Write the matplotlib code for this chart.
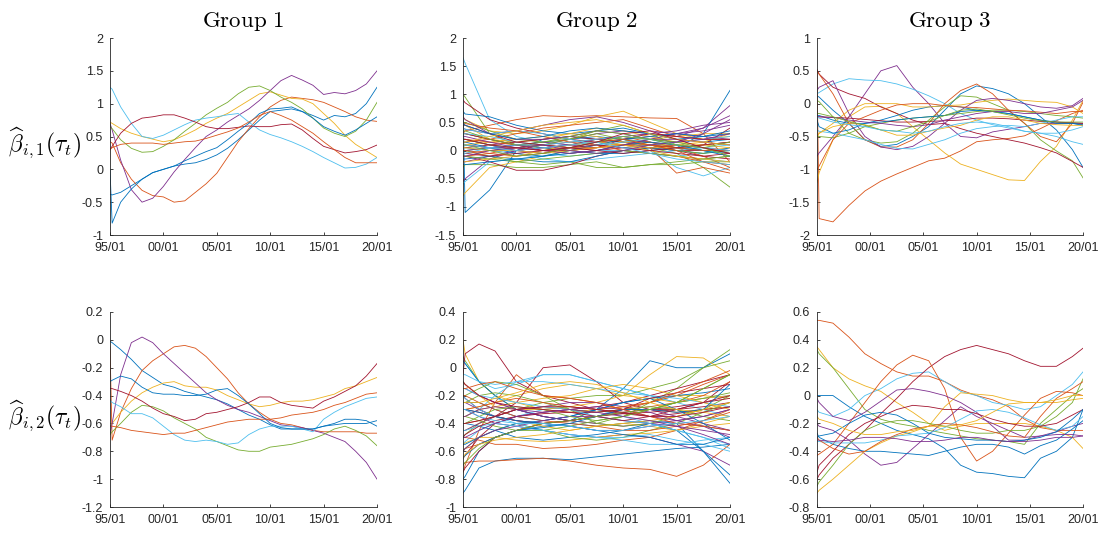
import matplotlib.pyplot as plt

# fonts: tick labels sans, titles / ylabels in Computer Modern like the LaTeX original
plt.rcParams['font.family'] = ['Liberation Sans', 'DejaVu Sans']
plt.rcParams['mathtext.fontset'] = 'cm'
plt.rcParams['axes.unicode_minus'] = False

# MATLAB default colour order
matlab_colors = ['#0072BD', '#D95319', '#EDB120', '#7E2F8E', '#77AC30', '#4DBEEE', '#A2142F']

# ---------------- data (decimal years) ----------------
years_tick = [1995, 2000, 2005, 2010, 2015, 2020]
tick_labels = ['95/01', '00/01', '05/01', '10/01', '15/01', '20/01']

t1 = [1995, 1995.2, 1996, 1997, 1998, 1999, 2000, 2001, 2002, 2003, 2004, 2005, 2006, 2007,
      2008, 2009, 2010, 2011, 2012, 2013, 2014, 2015, 2016, 2017, 2018, 2019, 2020]
t2_top = [1995, 1995.2, 1997.5, 2000, 2002.5, 2005, 2007.5, 2010, 2012.5, 2015, 2017.5, 2020]
t2_bot = [1995, 1995.2, 1996.5, 1998, 2000, 2002.5, 2005, 2007.5, 2010, 2012.5, 2015, 2017.5, 2020]
t3 = [1995, 1995.2, 1996.5, 1998, 1999.5, 2001, 2002.5, 2004, 2005.5, 2007, 2008.5, 2010,
      2011.5, 2013, 2014.5, 2016, 2017.5, 2019, 2020]

# Group 1, beta_{i,1}
g1_b1 = [
    [-0.38, -0.39, -0.35, -0.25, -0.15, -0.05, 0.0, 0.05, 0.08, 0.1, 0.15, 0.22, 0.32, 0.45, 0.6, 0.75, 0.88, 0.9, 0.92, 0.88, 0.82, 0.75, 0.82, 0.8, 0.85, 1.0, 1.25],
    [0.42, 0.4, 0.1, -0.15, -0.32, -0.4, -0.42, -0.5, -0.48, -0.35, -0.22, -0.06, 0.18, 0.42, 0.62, 0.8, 0.95, 1.05, 1.1, 1.08, 1.06, 1.02, 0.95, 0.88, 0.8, 0.75, 0.73],
    [0.72, 0.7, 0.62, 0.55, 0.5, 0.46, 0.42, 0.45, 0.52, 0.6, 0.7, 0.78, 0.85, 0.95, 1.05, 1.15, 1.18, 1.13, 1.08, 1.07, 1.0, 0.85, 0.7, 0.52, 0.38, 0.28, 0.18],
    [0.7, 0.6, 0.14, -0.31, -0.5, -0.44, -0.26, -0.04, 0.15, 0.33, 0.5, 0.6, 0.72, 0.82, 0.92, 1.05, 1.2, 1.35, 1.43, 1.36, 1.28, 1.14, 1.17, 1.15, 1.2, 1.3, 1.5],
    [0.65, 0.62, 0.45, 0.32, 0.26, 0.27, 0.35, 0.45, 0.58, 0.7, 0.83, 0.93, 1.02, 1.15, 1.25, 1.27, 1.2, 1.1, 1.02, 0.92, 0.78, 0.63, 0.55, 0.5, 0.58, 0.75, 1.02],
    [1.25, 1.22, 0.95, 0.7, 0.5, 0.47, 0.52, 0.6, 0.68, 0.75, 0.78, 0.8, 0.83, 0.85, 0.72, 0.6, 0.53, 0.48, 0.42, 0.35, 0.27, 0.18, 0.1, 0.02, 0.03, 0.08, 0.18],
    [0.3, 0.35, 0.55, 0.7, 0.78, 0.8, 0.83, 0.83, 0.78, 0.72, 0.65, 0.62, 0.62, 0.64, 0.66, 0.65, 0.65, 0.68, 0.69, 0.6, 0.47, 0.35, 0.3, 0.25, 0.27, 0.3, 0.37],
    [0.0, -0.82, -0.5, -0.3, -0.15, -0.05, 0.0, 0.05, 0.13, 0.2, 0.27, 0.33, 0.45, 0.58, 0.7, 0.85, 0.92, 0.93, 0.95, 0.88, 0.78, 0.65, 0.58, 0.52, 0.6, 0.7, 0.8],
    [0.3, 0.33, 0.38, 0.4, 0.4, 0.4, 0.38, 0.4, 0.42, 0.43, 0.47, 0.52, 0.57, 0.63, 0.72, 0.82, 0.88, 0.82, 0.75, 0.65, 0.55, 0.42, 0.3, 0.18, 0.1, 0.1, 0.1],
]

# Group 1, beta_{i,2}
g1_b2 = [
    [-0.01, -0.02, -0.07, -0.14, -0.22, -0.27, -0.32, -0.34, -0.37, -0.39, -0.41, -0.43, -0.46, -0.5, -0.54, -0.57, -0.61, -0.64, -0.64, -0.64, -0.64, -0.62, -0.6, -0.57, -0.57, -0.58, -0.62],
    [-0.05, -0.72, -0.52, -0.35, -0.22, -0.15, -0.1, -0.05, -0.04, -0.06, -0.12, -0.2, -0.28, -0.38, -0.46, -0.52, -0.57, -0.6, -0.61, -0.63, -0.65, -0.66, -0.66, -0.66, -0.66, -0.67, -0.67],
    [-0.62, -0.6, -0.52, -0.44, -0.38, -0.34, -0.31, -0.3, -0.33, -0.34, -0.34, -0.36, -0.4, -0.43, -0.46, -0.48, -0.47, -0.45, -0.44, -0.44, -0.43, -0.41, -0.39, -0.35, -0.33, -0.3, -0.27],
    [-0.68, -0.6, -0.25, -0.02, 0.02, -0.02, -0.1, -0.17, -0.24, -0.31, -0.38, -0.43, -0.47, -0.5, -0.52, -0.55, -0.58, -0.61, -0.62, -0.63, -0.65, -0.67, -0.7, -0.73, -0.8, -0.88, -1.0],
    [-0.68, -0.66, -0.6, -0.52, -0.47, -0.48, -0.51, -0.56, -0.6, -0.64, -0.7, -0.73, -0.76, -0.79, -0.8, -0.8, -0.77, -0.76, -0.75, -0.73, -0.71, -0.68, -0.64, -0.62, -0.65, -0.69, -0.76],
    [-0.43, -0.45, -0.48, -0.53, -0.53, -0.56, -0.62, -0.68, -0.72, -0.73, -0.72, -0.73, -0.75, -0.74, -0.68, -0.64, -0.62, -0.62, -0.62, -0.64, -0.66, -0.57, -0.52, -0.48, -0.45, -0.42, -0.41],
    [-0.35, -0.35, -0.37, -0.4, -0.44, -0.49, -0.53, -0.55, -0.58, -0.57, -0.53, -0.52, -0.5, -0.48, -0.45, -0.41, -0.41, -0.45, -0.47, -0.48, -0.49, -0.44, -0.41, -0.37, -0.33, -0.26, -0.17],
    [-0.3, -0.29, -0.26, -0.28, -0.34, -0.38, -0.39, -0.39, -0.4, -0.4, -0.39, -0.36, -0.35, -0.4, -0.46, -0.53, -0.6, -0.63, -0.64, -0.64, -0.64, -0.62, -0.61, -0.6, -0.6, -0.6, -0.58],
    [-0.62, -0.62, -0.63, -0.65, -0.66, -0.67, -0.68, -0.67, -0.67, -0.65, -0.63, -0.61, -0.59, -0.58, -0.57, -0.57, -0.57, -0.56, -0.54, -0.53, -0.52, -0.5, -0.47, -0.45, -0.42, -0.39, -0.38],
]

# Group 2, beta_{i,1} (dense bundle, estimated)
g2_b1 = [
    [0.9, -1.1, -0.7, 0.0, 0.2, 0.25, 0.2, 0.15, 0.1, 0.05, 0.1, 0.15],
    [0.3, 0.35, 0.45, 0.55, 0.62, 0.6, 0.62, 0.6, 0.58, 0.57, 0.3, -0.2],
    [-0.8, -0.75, -0.3, -0.2, -0.1, 0.0, 0.1, 0.2, 0.15, 0.05, 0.0, 0.05],
    [-0.55, -0.5, -0.15, 0.0, 0.1, 0.2, 0.3, 0.35, 0.3, 0.25, 0.4, 0.8],
    [1.0, 0.95, 0.3, 0.1, 0.05, 0.1, 0.2, 0.15, 0.05, -0.05, -0.3, -0.65],
    [1.65, 1.55, 0.55, 0.25, 0.15, 0.1, 0.15, 0.2, 0.0, -0.3, -0.45, -0.3],
    [0.9, 0.85, 0.55, 0.4, 0.3, 0.2, 0.15, 0.1, 0.05, 0.0, 0.0, 0.0],
    [0.3, 0.3, 0.2, 0.1, 0.15, 0.2, 0.25, 0.2, 0.15, 0.05, 0.3, 1.07],
    [0.1, 0.1, 0.05, 0.0, 0.05, 0.1, 0.15, 0.1, 0.05, -0.4, -0.3, -0.4],
    [0.6, 0.55, 0.35, 0.3, 0.35, 0.45, 0.6, 0.7, 0.5, 0.3, 0.2, 0.25],
    [0.4, 0.38, 0.3, 0.35, 0.45, 0.55, 0.6, 0.5, 0.35, 0.3, 0.4, 0.62],
    [0.0, 0.0, -0.1, -0.2, -0.25, -0.2, -0.3, -0.3, -0.25, -0.2, -0.15, -0.1],
    [0.2, 0.2, 0.1, 0.0, -0.05, -0.1, -0.05, 0.0, -0.05, -0.1, -0.05, 0.0],
    [0.1, 0.1, 0.05, 0.05, 0.1, 0.05, 0.0, 0.05, 0.1, 0.0, -0.1, -0.15],
    [0.7, 0.65, 0.6, 0.45, 0.35, 0.3, 0.35, 0.4, 0.3, 0.2, 0.15, 0.2],
    [-0.1, -0.1, -0.05, 0.05, 0.1, 0.15, 0.2, 0.25, 0.15, 0.05, -0.1, -0.3],
    [0.5, 0.45, 0.2, 0.1, 0.05, 0.0, 0.05, 0.15, 0.2, 0.25, 0.3, 0.3],
    [0.2, 0.2, 0.1, 0.0, -0.05, 0.05, 0.15, 0.2, 0.25, 0.3, 0.35, 0.45],
    [-0.3, -0.25, -0.25, -0.3, -0.3, -0.25, -0.2, -0.3, -0.25, -0.25, -0.2, -0.2],
    [0.05, 0.05, 0.0, -0.05, -0.15, -0.2, -0.15, -0.1, -0.05, 0.0, 0.05, 0.1],
    [-0.1, -0.1, -0.2, -0.35, -0.35, -0.25, -0.1, 0.0, 0.05, 0.1, 0.05, 0.0],
    [0.0, 0.0, 0.05, 0.1, 0.05, 0.0, -0.05, -0.05, 0.0, 0.05, 0.0, -0.05],
    [0.15, 0.15, 0.2, 0.3, 0.4, 0.45, 0.5, 0.55, 0.4, 0.25, 0.2, 0.2],
    [0.3, 0.3, 0.2, 0.15, 0.2, 0.3, 0.4, 0.35, 0.25, 0.15, 0.1, 0.15],
    [-0.2, -0.2, -0.1, 0.0, 0.05, 0.1, 0.2, 0.25, 0.3, 0.35, 0.45, 0.5],
    [0.5, 0.5, 0.35, 0.2, 0.15, 0.2, 0.35, 0.45, 0.3, 0.1, 0.0, -0.05],
    [-0.6, -0.55, -0.2, -0.15, -0.1, -0.05, 0.0, 0.0, -0.05, -0.1, -0.15, -0.2],
    [0.05, 0.05, 0.1, 0.15, 0.2, 0.25, 0.2, 0.15, 0.1, 0.05, 0.1, 0.4],
    [-0.15, -0.15, -0.1, -0.15, -0.2, -0.2, -0.1, 0.0, 0.05, 0.0, -0.05, 0.05],
    [-0.05, -0.05, 0.0, 0.05, 0.0, -0.05, 0.0, 0.1, 0.15, 0.1, 0.05, -0.05],
    [0.1, 0.1, 0.15, 0.2, 0.25, 0.3, 0.25, 0.15, 0.1, 0.1, 0.15, 0.3],
    [0.0, 0.0, 0.05, 0.1, 0.15, 0.1, 0.05, 0.1, 0.2, 0.3, 0.25, 0.2],
    [0.2, 0.2, 0.1, 0.05, 0.1, 0.2, 0.3, 0.2, 0.1, 0.0, -0.05, 0.0],
    [0.4, 0.38, 0.3, 0.35, 0.3, 0.2, 0.1, 0.05, 0.1, 0.15, 0.2, 0.25],
    [0.3, 0.3, 0.2, 0.1, 0.0, 0.0, 0.05, 0.2, 0.3, 0.25, 0.2, 0.2],
    [0.15, 0.15, 0.05, -0.05, -0.1, 0.0, 0.1, 0.2, 0.25, 0.3, 0.25, 0.3],
    [0.5, 0.48, 0.4, 0.35, 0.25, 0.15, 0.1, 0.0, -0.05, -0.1, -0.2, -0.25],
    [-0.2, -0.2, -0.15, -0.1, 0.0, 0.1, 0.15, 0.1, 0.05, 0.05, 0.1, 0.05],
    [0.6, 0.55, 0.3, 0.2, 0.2, 0.25, 0.35, 0.3, 0.2, 0.15, 0.2, 0.3],
    [-0.1, -0.1, -0.15, -0.2, -0.15, -0.1, -0.05, 0.0, -0.05, -0.1, -0.15, -0.1],
    [0.3, 0.3, 0.25, 0.15, 0.1, 0.05, 0.1, 0.15, 0.2, 0.1, 0.0, -0.05],
    [-0.05, -0.05, -0.1, -0.05, 0.0, 0.05, 0.1, 0.05, 0.0, -0.05, -0.1, -0.05],
    [-0.25, -0.25, -0.2, -0.15, -0.1, -0.05, 0.0, 0.1, 0.15, 0.1, 0.0, -0.1],
    [0.2, 0.2, 0.15, 0.1, 0.1, 0.05, 0.05, 0.1, 0.1, 0.05, 0.0, 0.0],
    [0.05, 0.05, 0.0, 0.0, -0.05, 0.0, 0.05, 0.1, 0.0, -0.1, -0.15, -0.2],
    [0.25, 0.25, 0.15, 0.05, 0.0, -0.05, 0.0, 0.1, 0.2, 0.2, 0.15, 0.1],
    [0.35, 0.35, 0.2, 0.1, 0.15, 0.25, 0.35, 0.3, 0.2, 0.15, 0.05, -0.1],
    [-0.05, -0.05, 0.05, 0.1, 0.1, 0.15, 0.2, 0.25, 0.2, 0.1, 0.05, 0.0],
    [0.45, 0.45, 0.3, 0.15, 0.1, 0.05, 0.0, -0.05, 0.0, 0.05, 0.1, 0.15],
    [0.5, 0.45, 0.3, 0.2, 0.25, 0.35, 0.4, 0.35, 0.3, 0.2, 0.25, 0.35],
    [0.0, 0.0, -0.05, -0.1, -0.05, 0.05, 0.15, 0.2, 0.1, 0.0, -0.2, -0.35],
    [0.15, 0.15, 0.25, 0.35, 0.45, 0.5, 0.55, 0.45, 0.3, 0.2, 0.15, 0.1],
    [-0.1, -0.1, 0.0, 0.05, 0.1, 0.0, -0.05, 0.0, 0.1, 0.15, 0.3, 0.55],
    [0.1, 0.1, 0.0, -0.1, -0.05, 0.05, 0.15, 0.25, 0.2, 0.1, 0.05, 0.15],
    [0.1, 0.1, 0.05, 0.0, 0.05, 0.1, 0.15, 0.05, -0.05, -0.15, -0.2, -0.25],
    [0.2, 0.2, 0.1, 0.05, 0.0, 0.05, 0.15, 0.3, 0.35, 0.2, 0.05, -0.05],
]

# Group 2, beta_{i,2}
g2_b2 = [
    [-0.9, -0.88, -0.72, -0.67, -0.65, -0.65, -0.66, -0.64, -0.62, -0.6, -0.58, -0.57, -0.55],
    [-0.75, -0.7, -0.45, -0.25, -0.05, -0.2, -0.22, -0.25, -0.3, -0.3, -0.32, -0.3, -0.28],
    [0.2, 0.1, -0.1, -0.2, -0.25, -0.3, -0.32, -0.3, -0.28, -0.25, -0.2, -0.2, -0.22],
    [-0.3, -0.3, -0.35, -0.4, -0.42, -0.45, -0.48, -0.5, -0.48, -0.5, -0.55, -0.6, -0.7],
    [0.08, 0.05, -0.1, -0.2, -0.3, -0.35, -0.38, -0.4, -0.35, -0.25, -0.15, 0.0, 0.13],
    [0.05, 0.03, -0.1, -0.15, -0.12, -0.05, -0.05, -0.1, -0.15, -0.2, -0.25, -0.3, -0.35],
    [-0.05, 0.1, 0.17, 0.12, -0.1, -0.2, -0.25, -0.3, -0.33, -0.35, -0.33, -0.3, -0.28],
    [0.05, 0.03, -0.1, -0.2, -0.3, -0.35, -0.38, -0.3, -0.15, 0.05, 0.0, 0.0, 0.1],
    [-0.7, -0.68, -0.67, -0.67, -0.66, -0.65, -0.67, -0.7, -0.72, -0.73, -0.78, -0.7, -0.55],
    [-0.3, -0.3, -0.28, -0.25, -0.2, -0.15, -0.12, -0.15, -0.2, -0.05, 0.08, 0.07, -0.05],
    [-0.1, -0.12, -0.2, -0.25, -0.3, -0.35, -0.38, -0.4, -0.42, -0.4, -0.38, -0.35, -0.3],
    [-0.5, -0.48, -0.4, -0.35, -0.3, -0.25, -0.22, -0.2, -0.2, -0.15, -0.1, 0.0, 0.05],
    [-0.55, -0.53, -0.45, -0.4, -0.35, -0.3, -0.28, -0.3, -0.35, -0.4, -0.45, -0.5, -0.55],
    [-0.2, -0.22, -0.3, -0.35, -0.25, 0.0, 0.02, -0.1, -0.25, -0.3, -0.3, -0.28, -0.25],
    [-0.8, -0.78, -0.6, -0.5, -0.45, -0.42, -0.4, -0.42, -0.4, -0.38, -0.4, -0.6, -0.83],
    [-0.6, -0.58, -0.55, -0.5, -0.45, -0.4, -0.38, -0.35, -0.3, -0.25, -0.2, -0.12, -0.05],
    [-0.45, -0.45, -0.4, -0.35, -0.38, -0.42, -0.45, -0.42, -0.4, -0.42, -0.45, -0.42, -0.4],
    [-0.25, -0.25, -0.3, -0.35, -0.38, -0.4, -0.42, -0.45, -0.45, -0.42, -0.4, -0.42, -0.45],
    [-0.2, -0.2, -0.15, -0.1, -0.12, -0.2, -0.3, -0.4, -0.42, -0.4, -0.35, -0.3, -0.2],
    [-0.35, -0.35, -0.3, -0.2, -0.1, -0.05, -0.05, -0.1, -0.15, -0.2, -0.25, -0.22, -0.2],
    [-0.65, -0.63, -0.5, -0.4, -0.35, -0.32, -0.3, -0.28, -0.25, -0.2, -0.15, -0.1, -0.05],
    [-0.4, -0.4, -0.42, -0.45, -0.5, -0.52, -0.5, -0.48, -0.45, -0.4, -0.45, -0.6, -0.77],
    [-0.5, -0.5, -0.52, -0.55, -0.55, -0.58, -0.57, -0.55, -0.52, -0.5, -0.45, -0.38, -0.3],
    [-0.55, -0.54, -0.5, -0.5, -0.52, -0.53, -0.52, -0.5, -0.48, -0.47, -0.45, -0.4, -0.35],
    [-0.15, -0.15, -0.2, -0.25, -0.3, -0.35, -0.38, -0.35, -0.3, -0.3, -0.35, -0.4, -0.45],
    [-0.6, -0.58, -0.5, -0.45, -0.4, -0.45, -0.5, -0.52, -0.5, -0.45, -0.4, -0.32, -0.25],
    [-0.2, -0.22, -0.3, -0.35, -0.4, -0.45, -0.48, -0.5, -0.5, -0.48, -0.52, -0.55, -0.6],
    [-0.75, -0.72, -0.6, -0.5, -0.45, -0.4, -0.38, -0.35, -0.33, -0.32, -0.3, -0.25, -0.1],
    [-0.25, -0.25, -0.25, -0.3, -0.35, -0.38, -0.35, -0.3, -0.25, -0.22, -0.2, -0.18, -0.15],
    [-0.4, -0.4, -0.38, -0.35, -0.3, -0.28, -0.3, -0.32, -0.3, -0.28, -0.25, -0.2, -0.1],
    [-0.1, -0.12, -0.2, -0.28, -0.3, -0.3, -0.28, -0.25, -0.2, -0.22, -0.25, -0.22, -0.2],
    [-0.45, -0.45, -0.4, -0.35, -0.3, -0.28, -0.25, -0.25, -0.28, -0.32, -0.38, -0.42, -0.5],
    [-0.35, -0.35, -0.38, -0.42, -0.45, -0.45, -0.42, -0.38, -0.35, -0.3, -0.25, -0.22, -0.18],
    [-0.05, -0.05, -0.1, -0.12, -0.1, -0.1, -0.12, -0.15, -0.18, -0.2, -0.22, -0.25, -0.28],
    [-0.3, -0.3, -0.32, -0.35, -0.38, -0.4, -0.38, -0.35, -0.32, -0.3, -0.28, -0.25, -0.22],
    [-0.55, -0.55, -0.5, -0.45, -0.4, -0.38, -0.35, -0.3, -0.25, -0.22, -0.3, -0.4, -0.52],
    [-0.2, -0.2, -0.25, -0.3, -0.35, -0.38, -0.4, -0.42, -0.45, -0.45, -0.42, -0.38, -0.32],
    [-0.35, -0.35, -0.3, -0.28, -0.25, -0.22, -0.2, -0.15, -0.12, -0.15, -0.2, -0.25, -0.3],
    [-0.6, -0.58, -0.5, -0.45, -0.42, -0.38, -0.35, -0.35, -0.38, -0.4, -0.42, -0.45, -0.48],
    [-0.25, -0.25, -0.2, -0.18, -0.2, -0.25, -0.3, -0.32, -0.3, -0.28, -0.3, -0.35, -0.38],
    [-0.45, -0.45, -0.42, -0.4, -0.42, -0.45, -0.48, -0.5, -0.52, -0.55, -0.55, -0.52, -0.5],
    [-0.5, -0.48, -0.42, -0.38, -0.35, -0.33, -0.32, -0.32, -0.3, -0.22, -0.18, -0.15, -0.12],
    [-0.65, -0.63, -0.55, -0.5, -0.45, -0.43, -0.4, -0.35, -0.3, -0.3, -0.32, -0.3, -0.12],
    [-0.3, -0.3, -0.28, -0.25, -0.22, -0.25, -0.28, -0.3, -0.28, -0.25, -0.18, -0.1, -0.02],
    [-0.65, -0.62, -0.55, -0.52, -0.5, -0.48, -0.45, -0.42, -0.4, -0.38, -0.35, -0.3, -0.25],
    [-0.35, -0.35, -0.3, -0.28, -0.3, -0.32, -0.3, -0.28, -0.3, -0.35, -0.38, -0.35, -0.3],
    [-0.4, -0.4, -0.35, -0.3, -0.28, -0.3, -0.35, -0.38, -0.35, -0.3, -0.25, -0.15, -0.05],
    [-0.15, -0.15, -0.2, -0.22, -0.25, -0.28, -0.3, -0.35, -0.38, -0.4, -0.45, -0.5, -0.58],
    [-0.1, -0.12, -0.2, -0.25, -0.28, -0.3, -0.32, -0.35, -0.38, -0.35, -0.3, -0.25, -0.2],
    [-0.3, -0.3, -0.32, -0.35, -0.38, -0.4, -0.42, -0.45, -0.48, -0.5, -0.55, -0.55, -0.5],
    [-0.15, -0.15, -0.12, -0.1, -0.15, -0.2, -0.22, -0.25, -0.3, -0.35, -0.4, -0.42, -0.45],
    [-0.25, -0.25, -0.25, -0.22, -0.18, -0.12, -0.1, -0.12, -0.18, -0.25, -0.3, -0.32, -0.35],
    [-0.5, -0.5, -0.45, -0.4, -0.35, -0.32, -0.3, -0.32, -0.35, -0.38, -0.42, -0.48, -0.55],
    [-0.7, -0.68, -0.58, -0.5, -0.45, -0.4, -0.38, -0.35, -0.32, -0.3, -0.25, -0.15, -0.05],
    [-0.3, -0.3, -0.35, -0.38, -0.4, -0.4, -0.42, -0.45, -0.45, -0.42, -0.4, -0.38, -0.35],
    [-0.4, -0.4, -0.38, -0.35, -0.3, -0.28, -0.28, -0.3, -0.32, -0.35, -0.35, -0.32, -0.28],
]

# Group 3, beta_{i,1}
g3_b1 = [
    [0.12, 0.1, -0.1, -0.3, -0.55, -0.65, -0.62, -0.5, -0.35, -0.1, 0.15, 0.27, 0.23, 0.15, 0.0, -0.2, -0.4, -0.7, -0.97],
    [0.5, -1.75, -1.8, -1.55, -1.33, -1.18, -1.07, -0.97, -0.87, -0.83, -0.72, -0.58, -0.55, -0.53, -0.49, -0.38, -0.26, -0.15, -0.1],
    [-1.2, -1.05, -0.55, -0.2, -0.05, -0.04, -0.15, -0.35, -0.55, -0.75, -0.92, -1.0, -1.08, -1.16, -1.17, -0.88, -0.65, -0.25, 0.05],
    [-0.8, -0.75, -0.5, -0.2, 0.15, 0.5, 0.58, 0.25, 0.0, -0.3, -0.5, -0.52, -0.43, -0.39, -0.35, -0.3, -0.3, -0.3, -0.3],
    [0.05, 0.03, -0.2, -0.45, -0.55, -0.6, -0.58, -0.45, -0.25, -0.05, 0.12, 0.1, 0.0, -0.1, -0.3, -0.55, -0.72, -0.87, -1.13],
    [0.15, 0.17, 0.3, 0.38, 0.36, 0.35, 0.3, 0.22, 0.12, 0.0, -0.15, -0.25, -0.32, -0.37, -0.42, -0.45, -0.5, -0.58, -0.62],
    [0.52, 0.45, 0.25, 0.15, 0.08, -0.05, -0.15, -0.25, -0.32, -0.3, -0.38, -0.45, -0.5, -0.55, -0.6, -0.67, -0.75, -0.88, -0.97],
    [-0.18, -0.18, -0.25, -0.3, -0.3, -0.25, -0.18, -0.1, -0.05, -0.03, -0.05, -0.1, -0.12, -0.15, -0.2, -0.25, -0.28, -0.3, -0.33],
    [0.5, 0.45, 0.15, -0.3, -0.55, -0.66, -0.66, -0.55, -0.3, 0.0, 0.2, 0.3, 0.15, -0.1, -0.3, -0.5, -0.58, -0.3, 0.02],
    [-0.5, -0.45, -0.3, -0.1, 0.0, 0.0, 0.0, -0.05, -0.05, -0.03, -0.02, 0.02, 0.05, 0.07, 0.05, 0.03, 0.02, -0.05, -0.15],
    [0.2, 0.25, 0.35, -0.15, -0.5, -0.66, -0.7, -0.65, -0.5, -0.3, -0.1, 0.05, 0.08, 0.05, 0.0, -0.05, -0.07, -0.03, 0.08],
    [-0.5, -0.5, -0.52, -0.45, -0.35, -0.3, -0.25, -0.22, -0.2, -0.18, -0.15, -0.12, -0.1, -0.1, -0.12, -0.15, -0.18, -0.2, -0.22],
    [-0.4, -0.42, -0.45, -0.5, -0.55, -0.62, -0.68, -0.69, -0.62, -0.55, -0.45, -0.38, -0.35, -0.33, -0.35, -0.3, -0.25, -0.2, -0.2],
    [-0.2, -0.2, -0.21, -0.22, -0.24, -0.26, -0.28, -0.28, -0.27, -0.26, -0.25, -0.22, -0.22, -0.23, -0.25, -0.27, -0.28, -0.29, -0.3],
    [-0.25, -0.35, -0.45, -0.4, -0.3, -0.28, -0.25, -0.22, -0.2, -0.18, -0.12, -0.1, -0.12, -0.15, -0.2, -0.25, -0.3, -0.3, -0.32],
    [-1.0, -0.95, -0.55, -0.3, -0.2, -0.1, -0.02, 0.0, 0.0, -0.03, -0.05, -0.06, -0.08, -0.1, -0.11, -0.13, -0.15, -0.12, -0.12],
    [-0.5, -0.45, -0.35, -0.3, -0.32, -0.4, -0.48, -0.48, -0.42, -0.37, -0.33, -0.25, -0.2, -0.2, -0.25, -0.3, -0.32, -0.33, -0.33],
    [-0.2, -0.2, -0.21, -0.25, -0.28, -0.3, -0.33, -0.35, -0.32, -0.25, -0.2, -0.15, -0.12, -0.12, -0.15, -0.15, -0.1, -0.05, 0.05],
    [-0.15, -0.15, -0.2, -0.27, -0.33, -0.4, -0.42, -0.35, -0.27, -0.18, -0.1, -0.08, -0.12, -0.17, -0.22, -0.26, -0.28, -0.28, -0.28],
    [-0.2, -0.22, -0.28, -0.32, -0.35, -0.4, -0.42, -0.45, -0.42, -0.35, -0.3, -0.28, -0.3, -0.35, -0.42, -0.45, -0.45, -0.4, -0.35],
]

# Group 3, beta_{i,2}
g3_b2 = [
    [0.0, 0.0, 0.0, -0.08, -0.15, -0.2, -0.25, -0.28, -0.31, -0.38, -0.5, -0.55, -0.56, -0.58, -0.59, -0.45, -0.4, -0.3, -0.1],
    [0.54, 0.54, 0.52, 0.42, 0.3, 0.23, 0.17, 0.14, 0.14, 0.1, 0.04, 0.0, -0.03, -0.08, -0.17, -0.23, -0.25, -0.25, -0.25],
    [0.35, 0.33, 0.2, 0.12, 0.07, 0.03, -0.05, -0.12, -0.2, -0.25, -0.22, -0.2, -0.2, -0.2, -0.2, -0.22, -0.25, -0.3, -0.38],
    [-0.2, -0.22, -0.25, -0.32, -0.42, -0.5, -0.48, -0.38, -0.28, -0.18, -0.08, -0.15, -0.2, -0.25, -0.3, -0.29, -0.26, -0.22, -0.2],
    [0.33, 0.3, 0.2, 0.05, -0.1, -0.17, -0.2, -0.22, -0.25, -0.27, -0.29, -0.31, -0.32, -0.33, -0.35, -0.2, -0.1, 0.0, 0.05],
    [-0.1, -0.12, -0.15, -0.1, 0.0, 0.05, 0.12, 0.16, 0.17, 0.1, 0.03, 0.0, -0.05, -0.07, -0.1, -0.08, 0.0, 0.08, 0.17],
    [-0.6, -0.57, -0.45, -0.35, -0.25, -0.13, -0.02, 0.1, 0.2, 0.28, 0.33, 0.36, 0.33, 0.3, 0.25, 0.21, 0.21, 0.28, 0.34],
    [-0.27, -0.3, -0.35, -0.38, -0.4, -0.4, -0.41, -0.42, -0.43, -0.4, -0.37, -0.35, -0.35, -0.37, -0.42, -0.36, -0.32, -0.24, -0.18],
    [-0.43, -0.42, -0.35, -0.2, -0.05, 0.1, 0.22, 0.29, 0.25, 0.05, -0.3, -0.47, -0.4, -0.27, -0.14, -0.02, 0.03, 0.02, 0.0],
    [-0.7, -0.68, -0.6, -0.5, -0.4, -0.34, -0.29, -0.26, -0.22, -0.08, 0.02, 0.01, 0.0, -0.03, -0.05, -0.05, -0.05, -0.03, -0.02],
    [-0.02, -0.05, -0.15, -0.18, -0.12, -0.04, 0.04, 0.05, 0.03, 0.0, -0.05, -0.12, -0.22, -0.32, -0.32, -0.29, -0.28, -0.28, -0.29],
    [-0.65, -0.62, -0.5, -0.35, -0.25, -0.2, -0.18, -0.18, -0.2, -0.22, -0.25, -0.27, -0.27, -0.25, -0.25, -0.22, -0.15, -0.05, 0.12],
    [-0.33, -0.33, -0.34, -0.34, -0.34, -0.32, -0.29, -0.28, -0.27, -0.23, -0.17, -0.11, -0.1, -0.12, -0.16, -0.21, -0.25, -0.22, -0.15],
    [-0.55, -0.5, -0.4, -0.28, -0.2, -0.15, -0.1, -0.07, -0.08, -0.1, -0.1, -0.13, -0.17, -0.2, -0.22, -0.22, -0.2, -0.14, -0.1],
    [-0.3, -0.29, -0.27, -0.2, -0.14, -0.12, -0.14, -0.2, -0.27, -0.3, -0.31, -0.32, -0.32, -0.33, -0.32, -0.3, -0.26, -0.17, -0.1],
    [-0.3, -0.32, -0.38, -0.42, -0.4, -0.33, -0.28, -0.24, -0.22, -0.2, -0.21, -0.23, -0.26, -0.29, -0.3, -0.15, -0.02, 0.05, 0.1],
    [-0.15, -0.17, -0.2, -0.25, -0.28, -0.28, -0.26, -0.25, -0.22, -0.22, -0.21, -0.18, -0.12, -0.06, -0.05, -0.05, -0.03, 0.0, 0.0],
    [-0.32, -0.32, -0.33, -0.32, -0.3, -0.3, -0.31, -0.33, -0.33, -0.32, -0.3, -0.3, -0.32, -0.33, -0.33, -0.32, -0.3, -0.3, -0.29],
]

titles = ['Group 1', 'Group 2', 'Group 3']
row_labels = [r'$\widehat{\beta}_{i,1}(\tau_t)$', r'$\widehat{\beta}_{i,2}(\tau_t)$']

yticks = [
    [[-1, -0.5, 0, 0.5, 1, 1.5, 2], [-1.5, -1, -0.5, 0, 0.5, 1, 1.5, 2], [-2, -1.5, -1, -0.5, 0, 0.5, 1]],
    [[-1.2, -1, -0.8, -0.6, -0.4, -0.2, 0, 0.2], [-1, -0.8, -0.6, -0.4, -0.2, 0, 0.2, 0.4],
     [-0.8, -0.6, -0.4, -0.2, 0, 0.2, 0.4, 0.6]],
]

panels = [[(t1, g1_b1), (t2_top, g2_b1), (t3, g3_b1)],
          [(t1, g1_b2), (t2_bot, g2_b2), (t3, g3_b2)]]

# ---------------- figure ----------------
W, H = 1101, 534
fig = plt.figure(figsize=(W / 100, H / 100), dpi=100)

col_px = [(110, 377), (463, 730), (817, 1083)]
row_px = [(38, 235), (312, 507)]
axcol = '#262626'

for r in range(2):
    for c in range(3):
        x0, x1 = col_px[c]
        y0, y1 = row_px[r]
        ax = fig.add_axes([x0 / W, 1 - y1 / H, (x1 - x0) / W, (y1 - y0) / H])
        ax.set_prop_cycle(color=matlab_colors)
        t, lines = panels[r][c]
        for ys in lines:
            ax.plot(t, ys, lw=0.6)

        yt = yticks[r][c]
        ax.set_xlim(1995, 2020)
        ax.set_ylim(yt[0], yt[-1])
        ax.set_xticks(years_tick)
        ax.set_xticklabels(tick_labels)
        ax.set_yticks(yt)
        ax.set_yticklabels(['%g' % v for v in yt])

        for s in ['top', 'right']:
            ax.spines[s].set_visible(False)
        for s in ['left', 'bottom']:
            ax.spines[s].set_color(axcol)
            ax.spines[s].set_linewidth(0.6)
        ax.tick_params(direction='in', length=2.5, width=0.6, colors=axcol, labelsize=9)
        ax.tick_params(axis='x', pad=5)
        ax.tick_params(axis='y', pad=5)

        if r == 0:
            ax.set_title(r'$\mathrm{%s}$' % titles[c].replace(' ', r'\ '), fontsize=16.5, pad=8)

    # row label on the left
    yc = (row_px[r][0] + row_px[r][1]) / 2 + 7
    fig.text(45 / W, 1 - yc / H, row_labels[r], fontsize=17, ha='center', va='center')

fig.savefig('out.png', dpi=100)
